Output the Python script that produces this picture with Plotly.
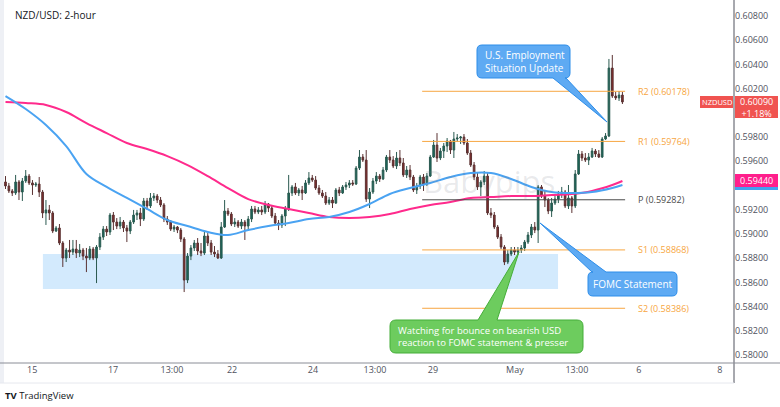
import plotly.graph_objects as go

W, H = 780, 407


def PX(x):
    return x / W


def PY(y):
    return 1 - y / H


# ---------------- data (NZD/USD, 2-hour candles) ----------------
opens = [
    0.59429, 0.59396, 0.59355, 0.59338, 0.59429, 0.59346, 0.59437, 0.59478, 0.59421, 0.59404,
    0.59412, 0.59346, 0.59173, 0.59198, 0.59173, 0.59024, 0.59049, 0.58925, 0.58801, 0.58867,
    0.58850, 0.58875, 0.58842, 0.58867, 0.58817, 0.58801, 0.58875, 0.58801, 0.58892, 0.58974,
    0.59040, 0.59016, 0.59156, 0.59098, 0.59065, 0.59098, 0.59049, 0.59024, 0.59098, 0.59156,
    0.59173, 0.59123, 0.59272, 0.59231, 0.59297, 0.59313, 0.59280, 0.59239, 0.59123, 0.59098,
    0.59040, 0.59057, 0.59032, 0.58958, 0.58619, 0.58817, 0.58884, 0.58925, 0.58859, 0.58842,
    0.58983, 0.58925, 0.58850, 0.58834, 0.58801, 0.59057, 0.59189, 0.59164, 0.59082, 0.59098,
    0.59065, 0.59098, 0.59065, 0.59123, 0.59206, 0.59181, 0.59198, 0.59181, 0.59247, 0.59214,
    0.59148, 0.59090, 0.59074, 0.59148, 0.59206, 0.59338, 0.59388, 0.59338, 0.59363, 0.59338,
    0.59421, 0.59462, 0.59445, 0.59379, 0.59338, 0.59313, 0.59255, 0.59280, 0.59255, 0.59363,
    0.59338, 0.59388, 0.59404, 0.59421, 0.59412, 0.59544, 0.59635, 0.59610, 0.59288, 0.59346,
    0.59437, 0.59478, 0.59454, 0.59528, 0.59635, 0.59610, 0.59561, 0.59627, 0.59586, 0.59487,
    0.59528, 0.59470, 0.59363, 0.59396, 0.59470, 0.59412, 0.59478, 0.59635, 0.59734, 0.59627,
    0.59685, 0.59726, 0.59767, 0.59693, 0.59784, 0.59792, 0.59800, 0.59751, 0.59668, 0.59569,
    0.59470, 0.59388, 0.59429, 0.59478, 0.59173, 0.59156, 0.59057, 0.58974, 0.58892, 0.58768,
    0.58834, 0.58867, 0.58850, 0.58867, 0.58884, 0.58933, 0.58991, 0.59057, 0.59032, 0.59388,
    0.59313, 0.59280, 0.59189, 0.59255, 0.59288, 0.59330, 0.59346, 0.59231, 0.59297, 0.59231,
    0.59495, 0.59660, 0.59627, 0.59610, 0.59635, 0.59685, 0.59660, 0.59635, 0.59784, 0.59809,
    0.60370, 0.60139, 0.60123, 0.60147,
]
highs = [
    0.59478, 0.59421, 0.59371, 0.59487, 0.59445, 0.59462, 0.59528, 0.59495, 0.59445, 0.59429,
    0.59470, 0.59363, 0.59280, 0.59239, 0.59189, 0.59065, 0.59082, 0.58941, 0.58884, 0.58950,
    0.58950, 0.58950, 0.58917, 0.58884, 0.58884, 0.58900, 0.58892, 0.58908, 0.59007, 0.59065,
    0.59065, 0.59173, 0.59181, 0.59131, 0.59140, 0.59115, 0.59074, 0.59115, 0.59198, 0.59198,
    0.59214, 0.59297, 0.59297, 0.59338, 0.59338, 0.59330, 0.59305, 0.59255, 0.59148, 0.59115,
    0.59074, 0.59065, 0.59049, 0.58974, 0.58842, 0.58908, 0.58950, 0.58966, 0.58925, 0.59016,
    0.59007, 0.58950, 0.58900, 0.58867, 0.59098, 0.59280, 0.59214, 0.59181, 0.59131, 0.59115,
    0.59123, 0.59115, 0.59148, 0.59231, 0.59231, 0.59222, 0.59231, 0.59272, 0.59255, 0.59231,
    0.59173, 0.59115, 0.59164, 0.59231, 0.59487, 0.59404, 0.59421, 0.59379, 0.59396, 0.59445,
    0.59511, 0.59487, 0.59478, 0.59404, 0.59363, 0.59346, 0.59305, 0.59305, 0.59379, 0.59388,
    0.59404, 0.59429, 0.59445, 0.59445, 0.59561, 0.59693, 0.59660, 0.59693, 0.59379, 0.59462,
    0.59511, 0.59495, 0.59553, 0.59652, 0.59693, 0.59643, 0.59677, 0.59693, 0.59627, 0.59561,
    0.59569, 0.59487, 0.59421, 0.59487, 0.59495, 0.59503, 0.59652, 0.59776, 0.59833, 0.59710,
    0.59751, 0.59792, 0.59776, 0.59842, 0.59825, 0.59809, 0.59825, 0.59784, 0.59693, 0.59594,
    0.59511, 0.59445, 0.59520, 0.59503, 0.59214, 0.59181, 0.59074, 0.58999, 0.58908, 0.58867,
    0.58892, 0.58892, 0.58892, 0.58908, 0.58950, 0.59016, 0.59082, 0.59098, 0.59404, 0.59404,
    0.59363, 0.59297, 0.59297, 0.59313, 0.59355, 0.59388, 0.59363, 0.59404, 0.59313, 0.59528,
    0.59693, 0.59685, 0.59668, 0.59668, 0.59710, 0.59701, 0.59693, 0.59800, 0.59833, 0.60445,
    0.60478, 0.60172, 0.60180, 0.60172,
]
lows = [
    0.59371, 0.59338, 0.59313, 0.59322, 0.59280, 0.59272, 0.59421, 0.59404, 0.59322, 0.59388,
    0.59305, 0.59131, 0.59074, 0.59115, 0.59007, 0.59016, 0.58908, 0.58727, 0.58768, 0.58801,
    0.58826, 0.58801, 0.58809, 0.58784, 0.58685, 0.58784, 0.58784, 0.58594, 0.58867, 0.58950,
    0.58983, 0.58991, 0.59032, 0.59040, 0.59040, 0.59016, 0.58933, 0.58999, 0.59082, 0.59115,
    0.59065, 0.59107, 0.59198, 0.59214, 0.59272, 0.59255, 0.59222, 0.59098, 0.59074, 0.59024,
    0.59016, 0.59007, 0.58933, 0.58520, 0.58594, 0.58784, 0.58859, 0.58826, 0.58817, 0.58826,
    0.58900, 0.58826, 0.58809, 0.58793, 0.58793, 0.59049, 0.59148, 0.59065, 0.59057, 0.59049,
    0.59040, 0.58950, 0.59040, 0.59098, 0.59164, 0.59164, 0.59156, 0.59164, 0.59181, 0.59131,
    0.59074, 0.59032, 0.59049, 0.59065, 0.59189, 0.59313, 0.59322, 0.59313, 0.59280, 0.59330,
    0.59404, 0.59429, 0.59363, 0.59322, 0.59297, 0.59239, 0.59239, 0.59214, 0.59247, 0.59313,
    0.59330, 0.59363, 0.59379, 0.59396, 0.59404, 0.59528, 0.59594, 0.59264, 0.59214, 0.59330,
    0.59412, 0.59429, 0.59445, 0.59511, 0.59586, 0.59544, 0.59536, 0.59561, 0.59470, 0.59462,
    0.59445, 0.59346, 0.59330, 0.59371, 0.59355, 0.59396, 0.59470, 0.59627, 0.59594, 0.59610,
    0.59627, 0.59677, 0.59660, 0.59627, 0.59759, 0.59743, 0.59734, 0.59652, 0.59553, 0.59445,
    0.59363, 0.59313, 0.59404, 0.59156, 0.59131, 0.59040, 0.58958, 0.58875, 0.58743, 0.58751,
    0.58817, 0.58826, 0.58826, 0.58842, 0.58859, 0.58917, 0.58966, 0.59007, 0.58925, 0.59297,
    0.59222, 0.59164, 0.59140, 0.59239, 0.59255, 0.59297, 0.59214, 0.59206, 0.59173, 0.59214,
    0.59487, 0.59602, 0.59594, 0.59569, 0.59627, 0.59635, 0.59627, 0.59627, 0.59776, 0.59800,
    0.60123, 0.60106, 0.60098, 0.60073,
]
closes = [
    0.59396, 0.59355, 0.59338, 0.59429, 0.59346, 0.59437, 0.59478, 0.59421, 0.59404, 0.59412,
    0.59346, 0.59173, 0.59198, 0.59173, 0.59024, 0.59049, 0.58925, 0.58801, 0.58867, 0.58850,
    0.58875, 0.58842, 0.58867, 0.58817, 0.58801, 0.58875, 0.58801, 0.58892, 0.58974, 0.59040,
    0.59016, 0.59156, 0.59098, 0.59065, 0.59098, 0.59049, 0.59024, 0.59098, 0.59156, 0.59173,
    0.59123, 0.59272, 0.59231, 0.59297, 0.59313, 0.59280, 0.59239, 0.59123, 0.59098, 0.59040,
    0.59057, 0.59032, 0.58958, 0.58619, 0.58817, 0.58884, 0.58925, 0.58859, 0.58842, 0.58983,
    0.58925, 0.58850, 0.58834, 0.58801, 0.59057, 0.59189, 0.59164, 0.59082, 0.59098, 0.59065,
    0.59098, 0.59065, 0.59123, 0.59206, 0.59181, 0.59198, 0.59181, 0.59247, 0.59214, 0.59148,
    0.59090, 0.59074, 0.59148, 0.59206, 0.59338, 0.59388, 0.59338, 0.59363, 0.59338, 0.59421,
    0.59462, 0.59445, 0.59379, 0.59338, 0.59313, 0.59255, 0.59280, 0.59255, 0.59363, 0.59338,
    0.59388, 0.59404, 0.59421, 0.59412, 0.59544, 0.59635, 0.59610, 0.59288, 0.59346, 0.59437,
    0.59478, 0.59454, 0.59528, 0.59635, 0.59610, 0.59561, 0.59627, 0.59586, 0.59487, 0.59528,
    0.59470, 0.59363, 0.59396, 0.59470, 0.59412, 0.59478, 0.59635, 0.59734, 0.59627, 0.59685,
    0.59726, 0.59767, 0.59693, 0.59784, 0.59792, 0.59800, 0.59751, 0.59668, 0.59569, 0.59470,
    0.59388, 0.59429, 0.59478, 0.59173, 0.59156, 0.59057, 0.58974, 0.58892, 0.58768, 0.58834,
    0.58867, 0.58850, 0.58867, 0.58884, 0.58933, 0.58991, 0.59057, 0.59032, 0.59388, 0.59313,
    0.59280, 0.59189, 0.59255, 0.59288, 0.59330, 0.59346, 0.59231, 0.59297, 0.59231, 0.59495,
    0.59660, 0.59627, 0.59610, 0.59635, 0.59685, 0.59660, 0.59635, 0.59784, 0.59809, 0.60370,
    0.60139, 0.60123, 0.60147, 0.60090,
]
bar_index = list(range(len(opens)))

# moving averages sampled every 6 bars (half a day)
ma_index = [0, 6, 12, 18, 24, 30, 36, 42, 48, 54, 60, 66, 72, 78, 84, 90,
            96, 102, 108, 114, 120, 126, 132, 138, 144, 150, 156, 162, 168, 174, 180, 183]
ma_blue = [0.60139, 0.60032, 0.59900, 0.59726, 0.59495, 0.59388, 0.59297, 0.59206,
           0.59115, 0.59065, 0.59016, 0.58991, 0.59032, 0.59065, 0.59090, 0.59123,
           0.59140, 0.59181, 0.59247, 0.59330, 0.59379, 0.59421, 0.59470, 0.59503,
           0.59503, 0.59454, 0.59388, 0.59346, 0.59338, 0.59346, 0.59379, 0.59404]
ma_pink = [0.60090, 0.60081, 0.60065, 0.60007, 0.59916, 0.59833, 0.59751, 0.59701,
           0.59643, 0.59569, 0.59478, 0.59379, 0.59288, 0.59239, 0.59206, 0.59173,
           0.59140, 0.59131, 0.59140, 0.59164, 0.59206, 0.59239, 0.59264, 0.59297,
           0.59305, 0.59313, 0.59313, 0.59322, 0.59330, 0.59355, 0.59404, 0.59437]

pivot_names = ["R2", "R1", "P", "S1", "S2"]
pivot_values = [0.60178, 0.59764, 0.59282, 0.58868, 0.58386]
pivot_start, pivot_end = 123.6, 183.8

zone_x = [11.1, 163.9]
zone_y = [0.58545, 0.58834]

x_tick_pos = [7.9, 31.9, 49.4, 67.2, 91.2, 109.6, 126.8, 151.1, 169.5, 187.9, 211.9]
x_tick_text = ["15", "17", "13:00", "22", "24", "13:00", "29", "May", "13:00", "6", "8"]
# 0.60000 and 0.59400 are hidden behind the price tags in the reference
y_ticks = [0.580, 0.582, 0.584, 0.586, 0.588, 0.590, 0.592, 0.596,
           0.598, 0.602, 0.604, 0.606, 0.608]

last_price, last_change, pink_last = "0.60090", "+1.18%", "0.59440"

FONT = "Open Sans"

fig = go.Figure()

fig.add_trace(go.Scatter(x=ma_index, y=ma_pink, mode="lines",
                         line=dict(color="#ff2a8c", width=2, shape="spline"),
                         hoverinfo="skip"))
fig.add_trace(go.Scatter(x=ma_index, y=ma_blue, mode="lines",
                         line=dict(color="#4aa3f2", width=2, shape="spline"),
                         hoverinfo="skip"))
fig.add_trace(go.Candlestick(
    x=bar_index, open=opens, high=highs, low=lows, close=closes,
    increasing=dict(line=dict(color="#2b5a50", width=1), fillcolor="#17675a"),
    decreasing=dict(line=dict(color="#5a3232", width=1), fillcolor="#862c2c"),
    whiskerwidth=0,
))

shapes = []
shapes.append(dict(type="rect", xref="x", yref="y", x0=zone_x[0], x1=zone_x[1],
                   y0=zone_y[0], y1=zone_y[1], fillcolor="rgba(33,150,243,0.2)",
                   line=dict(width=0), layer="below"))
annotations = []
for name, val in zip(pivot_names, pivot_values):
    col = "#4a4a4a" if name == "P" else "#f7a641"
    shapes.append(dict(type="line", xref="x", yref="y", x0=pivot_start, x1=pivot_end,
                       y0=val, y1=val, line=dict(color=col, width=1)))
    annotations.append(dict(xref="paper", yref="y", x=PX(636), y=val, xanchor="left",
                            yanchor="middle", showarrow=False,
                            text=f"{name} ({val:.5f})",
                            font=dict(family=FONT, size=9, color=col)))


def callout_path(x0, y0, x1, y1, r, edge, a, b, tip):
    p = []
    if edge == "top":
        p.append(f"M {PX(x0 + r)},{PY(y0)}")
        p.append(f"L {PX(a)},{PY(y0)} L {PX(tip[0])},{PY(tip[1])} L {PX(b)},{PY(y0)}")
        p.append(f"L {PX(x1 - r)},{PY(y0)}")
    else:
        p.append(f"M {PX(x0 + r)},{PY(y0)} L {PX(x1 - r)},{PY(y0)}")
    p.append(f"Q {PX(x1)},{PY(y0)} {PX(x1)},{PY(y0 + r)}")
    p.append(f"L {PX(x1)},{PY(y1 - r)} Q {PX(x1)},{PY(y1)} {PX(x1 - r)},{PY(y1)}")
    if edge == "bottom":
        p.append(f"L {PX(b)},{PY(y1)} L {PX(tip[0])},{PY(tip[1])} L {PX(a)},{PY(y1)}")
    p.append(f"L {PX(x0 + r)},{PY(y1)} Q {PX(x0)},{PY(y1)} {PX(x0)},{PY(y1 - r)}")
    p.append(f"L {PX(x0)},{PY(y0 + r)} Q {PX(x0)},{PY(y0)} {PX(x0 + r)},{PY(y0)} Z")
    return " ".join(p)


BLUE_FILL, BLUE_LINE = "#5eaaf3", "#2d8de9"
GREEN_FILL, GREEN_LINE = "#6dcc5e", "#45ad39"
shapes.append(dict(type="path", xref="paper", yref="paper",
                   path=callout_path(477, 45, 570, 78, 5, "bottom", 553, 566, (607, 122)),
                   fillcolor=BLUE_FILL, line=dict(color=BLUE_LINE, width=1)))
shapes.append(dict(type="path", xref="paper", yref="paper",
                   path=callout_path(588, 272, 677, 296, 5, "top", 592, 606, (540, 223)),
                   fillcolor=BLUE_FILL, line=dict(color=BLUE_LINE, width=1)))
shapes.append(dict(type="path", xref="paper", yref="paper",
                   path=callout_path(390, 320, 583, 353, 6, "top", 478, 497, (519, 252)),
                   fillcolor=GREEN_FILL, line=dict(color=GREEN_LINE, width=1)))

# frame / axis lines
shapes.append(dict(type="rect", xref="paper", yref="paper", x0=0, x1=PX(4), y0=PY(383), y1=1,
                   fillcolor="#eef0f5", line=dict(width=0)))
shapes.append(dict(type="line", xref="paper", yref="paper", x0=PX(734), x1=PX(734),
                   y0=PY(383), y1=1, line=dict(color="#50535e", width=1)))
shapes.append(dict(type="line", xref="paper", yref="paper", x0=0, x1=1,
                   y0=PY(363), y1=PY(363), line=dict(color="#8a8d96", width=1)))
shapes.append(dict(type="line", xref="paper", yref="paper", x0=0, x1=PX(734),
                   y0=PY(383), y1=PY(383), line=dict(color="#e6e8ee", width=1)))

# price tags on the right
shapes.append(dict(type="rect", xref="paper", yref="paper", x0=PX(700), x1=PX(733),
                   y0=PY(108), y1=PY(96), fillcolor="#f05350", line=dict(width=0)))
shapes.append(dict(type="rect", xref="paper", yref="paper", x0=PX(735), x1=PX(778),
                   y0=PY(118), y1=PY(96), fillcolor="#f05350", line=dict(width=0)))
shapes.append(dict(type="rect", xref="paper", yref="paper", x0=PX(735), x1=PX(778),
                   y0=PY(190), y1=PY(186), fillcolor="#42a0f0", line=dict(width=0)))
shapes.append(dict(type="rect", xref="paper", yref="paper", x0=PX(735), x1=PX(778),
                   y0=PY(187), y1=PY(174), fillcolor="#ff1f8c", line=dict(width=0)))


def label(x, y, text, size, color, xa="center", align="center"):
    return dict(xref="paper", yref="paper", x=PX(x), y=PY(y), xanchor=xa, yanchor="middle",
                align=align, text=text, showarrow=False, borderpad=0,
                font=dict(family=FONT, size=size, color=color))


annotations += [
    label(716.5, 102, "NZDUSD", 7.5, "white"),
    label(756.5, 107, f"{last_price}<br>{last_change}", 9, "white"),
    label(756.5, 180.5, pink_last, 9, "white"),
    label(14, 15, "NZD/USD: 2-hour", 10, "#131722", xa="left"),
    label(489, 181, "Babypips", 31, "rgba(120,123,134,0.16)"),
    label(484, 61.5, "U.S. Employment<br>Situation Update", 10, "white", xa="left", align="left"),
    label(632.5, 284, "FOMC Statement", 10, "white"),
    label(397, 336.5, "Watching for bounce on bearish USD<br>reaction to FOMC statement &amp; presser",
          9.5, "white", xa="left", align="left"),
    label(4, 395, "<b>TV</b> TradingView", 9.5, "#131722", xa="left"),
]

fig.update_layout(
    width=W, height=H, autosize=False,
    margin=dict(l=0, r=0, t=0, b=0, pad=0),
    paper_bgcolor="white", plot_bgcolor="white",
    showlegend=False, hovermode=False,
    shapes=shapes, annotations=annotations,
    xaxis=dict(domain=[PX(4), PX(734)], range=[-0.445, 216.1], showgrid=False,
               zeroline=False, showline=False, tickmode="array", tickvals=x_tick_pos,
               ticktext=x_tick_text, ticks="", tickfont=dict(family=FONT, size=9, color="#50535e"),
               rangeslider=dict(visible=False), fixedrange=True),
    yaxis=dict(domain=[PY(363), 1], range=[0.57934, 0.60932], side="right",
               showgrid=False, zeroline=False, showline=False, tickmode="array",
               tickvals=y_ticks, tickformat=".5f", ticks="",
               tickfont=dict(family=FONT, size=9, color="#50535e"), fixedrange=True),
)

fig.write_html("out.html")
